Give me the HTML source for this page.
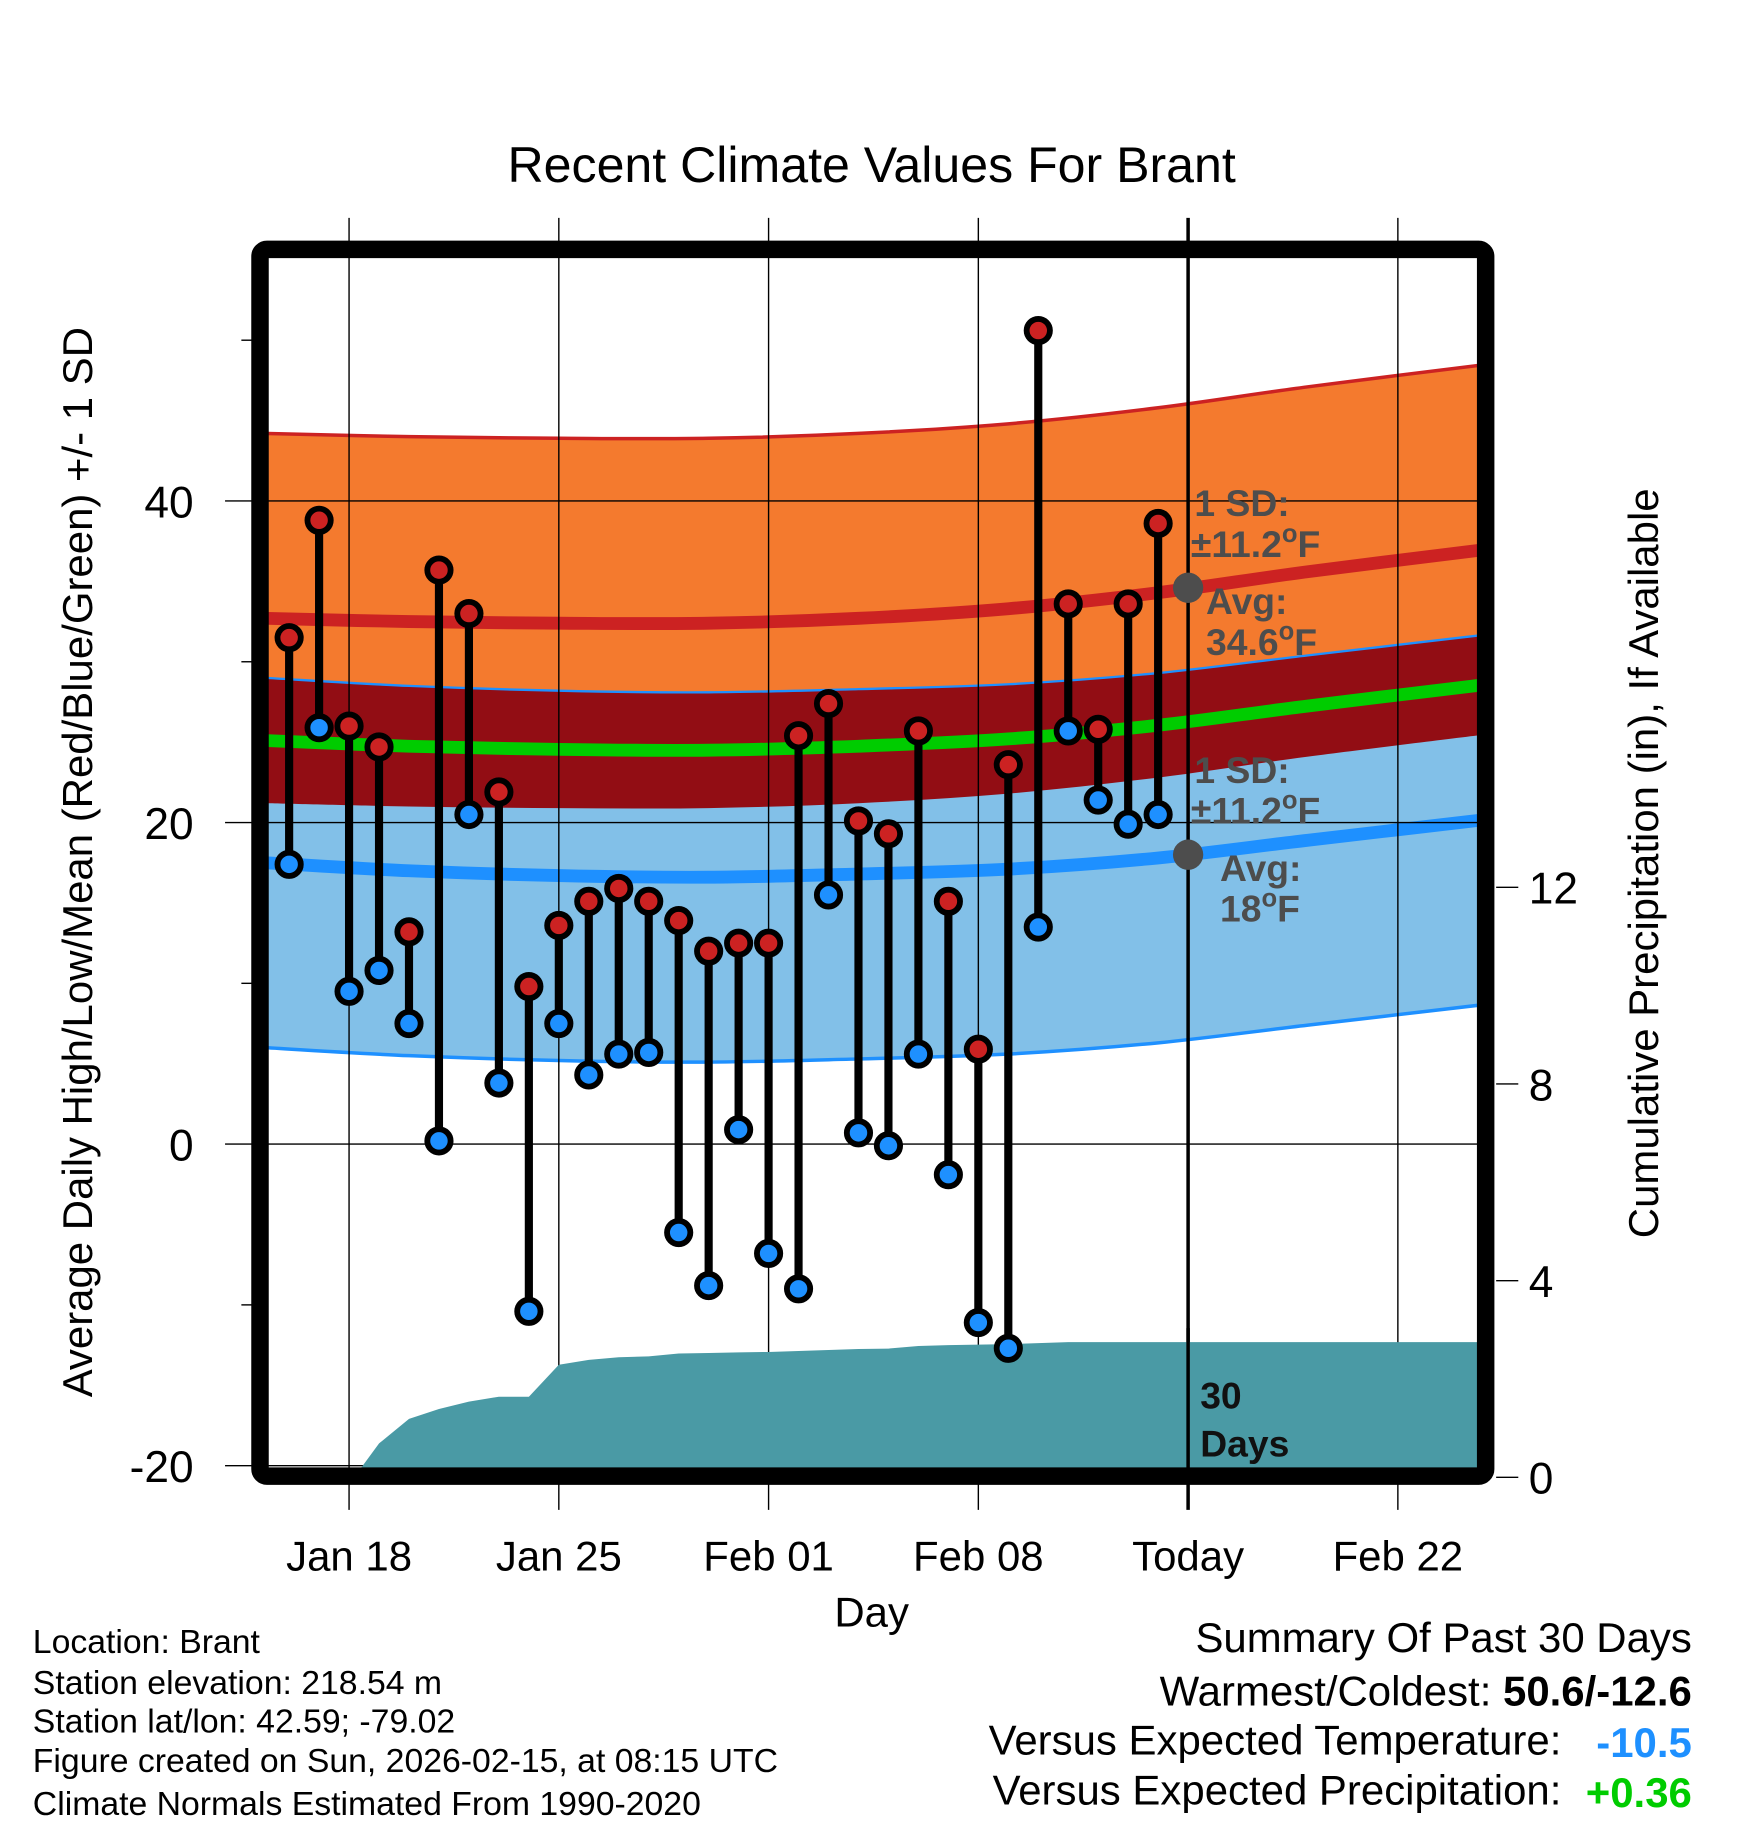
<!DOCTYPE html>
<html><head><meta charset="utf-8"><style>
html,body{margin:0;padding:0;background:#fff;}
svg{display:block;font-family:"Liberation Sans",Arial,sans-serif;}
</style></head><body>
<svg id="chart" width="1748" height="1828" viewBox="0 0 1500 1569" xmlns="http://www.w3.org/2000/svg">
<defs><clipPath id="plotclip"><rect x="230" y="221" width="1038" height="1039"/></clipPath></defs>
<g id="bands" clip-path="url(#plotclip)"></g>
<g id="grid"></g>
<g id="precip" clip-path="url(#plotclip)"></g>
<g id="marks"></g>
<g id="annot"></g>
<g id="axes"></g>
<text x="748" y="156" font-size="43" text-anchor="middle">Recent Climate Values For Brant</text>
<text transform="translate(79,740) rotate(-90)" font-size="36" text-anchor="middle">Average Daily High/Low/Mean (Red/Blue/Green) +/- 1 SD</text>
<text transform="translate(1423,741) rotate(-90)" font-size="36" text-anchor="middle">Cumulative Precipitation (in), If Available</text>
<text x="748" y="1396" font-size="36" text-anchor="middle">Day</text>
<g font-size="29">
<text x="28" y="1419">Location: Brant</text>
<text x="28" y="1454">Station elevation: 218.54 m</text>
<text x="28" y="1487">Station lat/lon: 42.59; -79.02</text>
<text x="28" y="1521">Figure created on Sun, 2026-02-15, at 08:15 UTC</text>
<text x="28" y="1558">Climate Normals Estimated From 1990-2020</text>
</g>
<g font-size="36" text-anchor="end">
<text x="1452" y="1418">Summary Of Past 30 Days</text>
<text x="1452" y="1464">Warmest/Coldest: <tspan font-weight="bold">50.6/-12.6</tspan></text>
<text x="1340" y="1506">Versus Expected Temperature:</text>
<text x="1452" y="1508" fill="#1e90ff" font-weight="bold">-10.5</text>
<text x="1340" y="1549">Versus Expected Precipitation:</text>
<text x="1452" y="1551" fill="#00cc00" font-weight="bold">+0.36</text>
</g>
</svg>
<script>
// ---- data ----
const days = ["Jan16","Jan17","Jan18","Jan19","Jan20","Jan21","Jan22","Jan23","Jan24","Jan25","Jan26","Jan27","Jan28","Jan29","Jan30","Jan31","Feb01","Feb02","Feb03","Feb04","Feb05","Feb06","Feb07","Feb08","Feb09","Feb10","Feb11","Feb12","Feb13","Feb14"];
const highs = [31.5,38.8,26.0,24.7,13.2,35.7,33.0,21.9,9.8,13.6,15.1,15.9,15.1,13.9,12.0,12.5,12.5,25.4,27.4,20.1,19.3,25.7,15.1,5.9,23.6,50.6,33.6,25.8,33.6,38.6];
const lows = [17.4,25.9,9.5,10.8,7.5,0.2,20.5,3.8,-10.4,7.5,4.3,5.6,5.7,-5.5,-8.8,0.9,-6.8,-9.0,15.5,0.7,-0.1,5.6,-1.9,-11.1,-12.7,13.5,25.7,21.4,19.9,20.5];
const precip = [0,0,0,0.5,1.0,1.2,1.35,1.45,1.45,2.1,2.2,2.25,2.27,2.33,2.34,2.35,2.36,2.38,2.4,2.42,2.43,2.48,2.5,2.51,2.52,2.54,2.56,2.56,2.56,2.56];
const normalDays = [-0.8,4,9,14,19,24,29,34,40];   // day offset from Jan16
const normalHigh = [32.7,32.5,32.4,32.4,32.7,33.3,34.3,35.6,37.0];
const normalLow = [17.5,17.0,16.7,16.6,16.8,17.1,17.8,18.9,20.2];
const sdHigh = [11.5,11.5,11.5,11.5,11.5,11.5,11.5,11.5,11.5];
const sdLow = [11.5,11.5,11.5,11.5,11.5,11.5,11.5,11.5,11.5];
const xTickLabels = ["Jan 18","Jan 25","Feb 01","Feb 08","Today","Feb 22"];
const xTickDays = [2,9,16,23,30,37];
const yTicks = [-20,0,20,40];
const yMinorTicks = [-10,10,30,50];
const y2Ticks = [0,4,8,12];
// ---- scales ----
const X = d => 248 + d*25.72;
const Y = v => 982 - v*13.8;
const P = v => 1260 - v*42.2;
const P2 = v => 1268 - v*42.2;
const NS = "http://www.w3.org/2000/svg";
function mk(tag, attrs, parent){const e=document.createElementNS(NS,tag);for(const k in attrs)e.setAttribute(k,attrs[k]);parent.appendChild(e);return e;}
const $ = id => document.getElementById(id);
function smooth(pts){
  let d="M"+pts[0][0].toFixed(1)+","+pts[0][1].toFixed(1);
  for(let i=0;i<pts.length-1;i++){
    const p0=pts[Math.max(0,i-1)],p1=pts[i],p2=pts[i+1],p3=pts[Math.min(pts.length-1,i+2)];
    const c1=[p1[0]+(p2[0]-p0[0])/6,p1[1]+(p2[1]-p0[1])/6];
    const c2=[p2[0]-(p3[0]-p1[0])/6,p2[1]-(p3[1]-p1[1])/6];
    d+="C"+c1[0].toFixed(1)+","+c1[1].toFixed(1)+" "+c2[0].toFixed(1)+","+c2[1].toFixed(1)+" "+p2[0].toFixed(1)+","+p2[1].toFixed(1);
  }
  return d;
}
const hiU = normalDays.map((d,i)=>[X(d),Y(normalHigh[i]+sdHigh[i])]);
const hiL = normalDays.map((d,i)=>[X(d),Y(normalHigh[i]-sdHigh[i])]);
const loU = normalDays.map((d,i)=>[X(d),Y(normalLow[i]+sdLow[i])]);
const loL = normalDays.map((d,i)=>[X(d),Y(normalLow[i]-sdLow[i])]);
const hiM = normalDays.map((d,i)=>[X(d),Y(normalHigh[i])]);
const loM = normalDays.map((d,i)=>[X(d),Y(normalLow[i])]);
const mean = normalDays.map((d,i)=>[X(d),Y((normalHigh[i]+normalLow[i])/2)]);
const band = (u,l)=>smooth(u)+"L"+smooth(l.slice().reverse()).slice(1)+"Z";
const B=$("bands");
let e;
e=mk("path",{d:band(hiU,hiL),fill:"#f47a2e"},B);


e=mk("path",{d:band(loU,loL),fill:"#82c0e8"},B);


e=mk("path",{d:band(loU,hiL),fill:"#920d14"},B);


e=mk("path",{d:smooth(hiU),fill:"none",stroke:"#cc2222",'stroke-width':3},B);


e=mk("path",{d:smooth(loU),fill:"none",stroke:"#1e90ff",'stroke-width':2},B);


e=mk("path",{d:smooth(loL),fill:"none",stroke:"#1e90ff",'stroke-width':3},B);


e=mk("path",{d:smooth(hiM),fill:"none",stroke:"#cc2222",'stroke-width':11},B);


e=mk("path",{d:smooth(loM),fill:"none",stroke:"#1e90ff",'stroke-width':11},B);


e=mk("path",{d:smooth(mean),fill:"none",stroke:"#00cc00",'stroke-width':11},B);


// grid
const G=$("grid");
xTickDays.forEach((d,i)=>{
  e=mk("line",{x1:X(d),x2:X(d),y1:187,y2:1296,stroke:"#000",'stroke-width':i==4?3:1.2},G);
  
  
  e=mk("text",{x:X(d),y:1348,'font-size':36,'text-anchor':'middle'},G);
  e.textContent=xTickLabels[i];
  
  
});
yTicks.forEach(v=>{
  e=mk("line",{x1:193,x2:1268,y1:Y(v),y2:Y(v),stroke:"#000",'stroke-width':1.2},G);
  
  
  e=mk("text",{x:166,y:Y(v)+14,'font-size':38,'text-anchor':'end'},G);
  e.textContent=v;
  
  
});
yMinorTicks.forEach(v=>{
  e=mk("line",{x1:207,x2:216,y1:Y(v),y2:Y(v),stroke:"#000",'stroke-width':1.2},G);
  
  
});
y2Ticks.forEach(v=>{
  e=mk("line",{x1:1284,x2:1303,y1:P2(v),y2:P2(v),stroke:"#000",'stroke-width':1.2},G);
  
  
  e=mk("text",{x:1312,y:P2(v)+14,'font-size':38},G);
  e.textContent=v;
  
  
});
// precip
const pts=precip.map((v,i)=>[X(i),P(v)]).slice(3);
pts.push([1268,P(precip[precip.length-1])]);
e=mk("path",{d:"M"+X(2.4).toFixed(1)+",1260L"+pts.map(p=>p[0].toFixed(1)+","+p[1].toFixed(1)).join("L")+"L1268,1260Z",fill:"#4a9aa5"},$("precip"));


e=mk("line",{x1:X(30),x2:X(30),y1:1140,y2:1262,stroke:"#000",'stroke-width':3},$("precip"));


// marks
const M=$("marks");
days.forEach((d,i)=>{
  e=mk("line",{x1:X(i),x2:X(i),y1:Y(highs[i]),y2:Y(lows[i]),stroke:"#000",'stroke-width':7},M);
  
  
});
days.forEach((d,i)=>{
  e=mk("circle",{cx:X(i),cy:Y(highs[i]),r:10,fill:"#cc2222",stroke:"#000",'stroke-width':5},M);
  
  
  e=mk("circle",{cx:X(i),cy:Y(lows[i]),r:10,fill:"#1e90ff",stroke:"#000",'stroke-width':5},M);
  
  
});
// annotations
const A=$("annot");
const tx=X(30);
function t(x,y,s,name,fill){const el=mk("text",{x:x,y:y,'font-size':32,'font-weight':'bold',fill:fill||"#4d4d4d"},A);el.innerHTML=s;return el;}
t(1025,443,"1 SD:","high-sd-label");
t(1022,478,"±11.2<tspan dy='-13' font-size='22'>o</tspan><tspan dy='13'>F</tspan>","high-sd-value");
e=mk("circle",{cx:tx,cy:Y(34.6),r:13,fill:"#4d4d4d"},A);


t(1035,527,"Avg:","avg-high-label");
t(1035,562,"34.6<tspan dy='-13' font-size='22'>o</tspan><tspan dy='13'>F</tspan>","avg-high-value");
t(1025,672,"1 SD:","low-sd-label");
t(1022,707,"±11.2<tspan dy='-13' font-size='22'>o</tspan><tspan dy='13'>F</tspan>","low-sd-value");
e=mk("circle",{cx:tx,cy:Y(18),r:13,fill:"#4d4d4d"},A);


t(1047,756,"Avg:","avg-low-label");
t(1047,791,"18<tspan dy='-13' font-size='22'>o</tspan><tspan dy='13'>F</tspan>","avg-low-value");
t(1030,1209,"30","days-count","#111");
t(1030,1250,"Days","days-label","#111");
// frame
e=mk("rect",{x:223,y:214,width:1052,height:1053,rx:6,fill:"none",stroke:"#000",'stroke-width':15},$("axes"));


</script>
</body></html>
